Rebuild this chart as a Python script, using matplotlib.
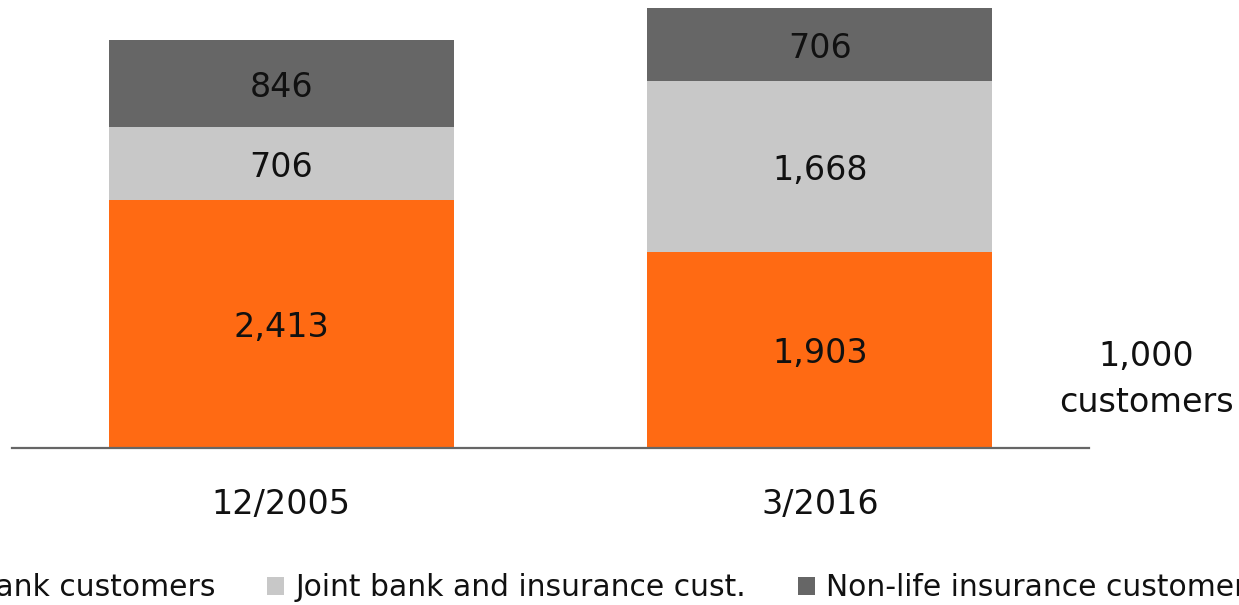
import matplotlib
matplotlib.use("Agg")
import matplotlib.pyplot as plt
from matplotlib.patches import Patch

categories = ["12/2005", "3/2016"]
series_names = ["Bank customers", "Joint bank and insurance cust.", "Non-life insurance customers"]
bank = [2413, 1903]
joint = [706, 1668]
nonlife = [846, 706]
colors = ["#FF6A13", "#C8C8C8", "#666666"]
unit_label = "1,000\ncustomers"

W, H = 1239, 605
fig = plt.figure(figsize=(W / 100, H / 100), dpi=100)
ax = fig.add_axes([12 / W, (H - 448) / H, (1089 - 12) / W, 448 / H])

x = list(range(len(categories)))
bottoms = [0] * len(categories)
for vals, col in zip([bank, joint, nonlife], colors):
    ax.bar(x, vals, width=0.64, bottom=bottoms, color=col, edgecolor="none", zorder=2)
    for xi, b, v in zip(x, bottoms, vals):
        ax.text(xi, b + v / 2, f"{v:,}", ha="center", va="center_baseline", fontsize=24,
                color="#111111", zorder=3)
    bottoms = [b + v for b, v in zip(bottoms, vals)]

ax.set_xlim(-0.5, 1.5)
ax.set_ylim(0, 4359)
ax.set_xticks(x)
ax.set_xticklabels(categories, fontsize=24, color="#111111")
ax.tick_params(axis="x", length=0, pad=29)
ax.set_yticks([])
for s in ["left", "right", "top"]:
    ax.spines[s].set_visible(False)
ax.spines["bottom"].set_color("#666666")
ax.spines["bottom"].set_linewidth(1.6)

fig.text(1146 / W, 1 - 380 / H, unit_label, ha="center", va="center", fontsize=24,
         color="#111111", linespacing=1.5)

handles = [Patch(facecolor=c, edgecolor="none") for c in colors]
fig.legend(handles, series_names, loc="center", bbox_to_anchor=(0.488, 1 - 588 / H), ncol=3,
           frameon=False, fontsize=21.4, handlelength=0.57, handleheight=0.57, handletextpad=0.37,
           columnspacing=1.75, labelcolor="#111111")

fig.savefig("out.png", dpi=100)
